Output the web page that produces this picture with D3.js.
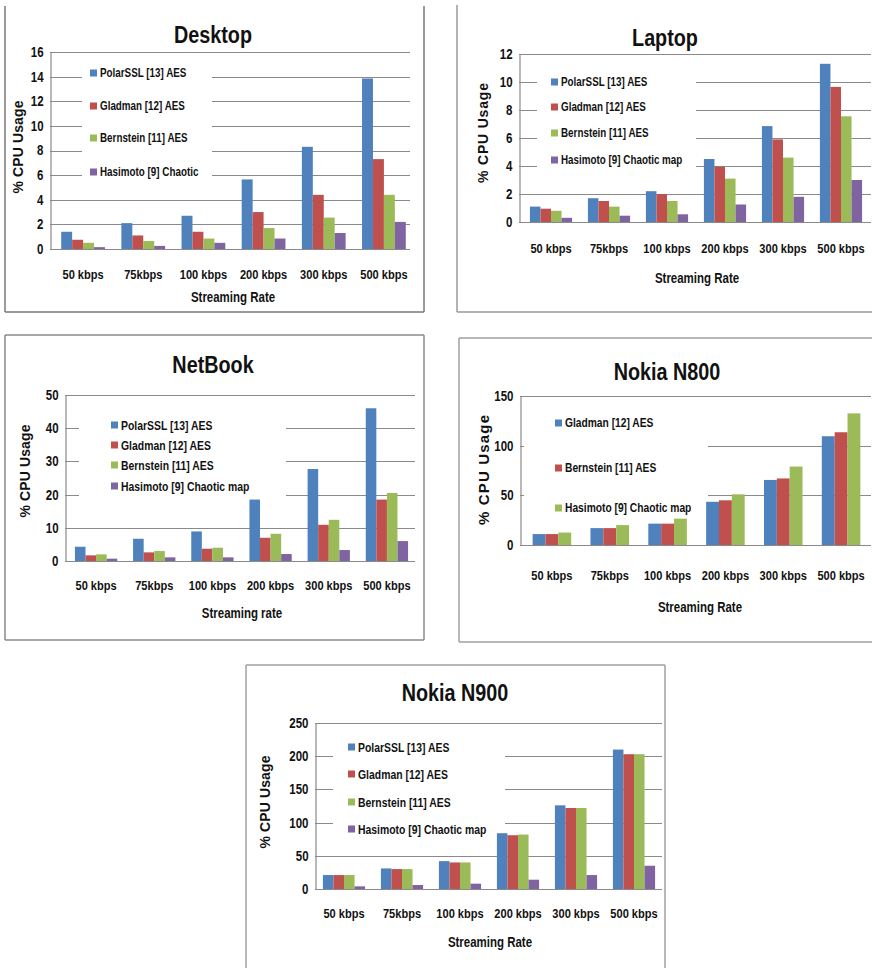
<!DOCTYPE html>
<html><head><meta charset="utf-8">
<script src="https://cdn.jsdelivr.net/npm/d3@7"></script>
<style>
body{margin:0;background:#fff}
svg{display:block}
text{font-family:"Liberation Sans Narrow","Arial Narrow","Liberation Sans",sans-serif;font-weight:bold;fill:#111}
</style>
</head><body>
<svg id="c" width="872" height="968"></svg>
<script>
// ---------- data ----------
const categories = ["50 kbps", "75kbps", "100 kbps", "200 kbps", "300 kbps", "500 kbps"];
const seriesColors = ["#4F81BD", "#C0504D", "#9BBB59", "#8064A2"];

const desktopSeries = ["PolarSSL [13] AES", "Gladman [12] AES", "Bernstein [11] AES", "Hasimoto [9] Chaotic"];
const desktopPolarSSL = [1.4, 2.1, 2.7, 5.65, 8.3, 13.85];
const desktopGladman = [0.75, 1.1, 1.4, 3.0, 4.4, 7.3];
const desktopBernstein = [0.5, 0.65, 0.85, 1.7, 2.55, 4.4];
const desktopHasimoto = [0.15, 0.25, 0.5, 0.85, 1.3, 2.2];
const desktopTicks = [0, 2, 4, 6, 8, 10, 12, 14, 16];

const laptopSeries = ["PolarSSL [13] AES", "Gladman [12] AES", "Bernstein [11] AES", "Hasimoto [9] Chaotic map"];
const laptopPolarSSL = [1.1, 1.7, 2.2, 4.5, 6.85, 11.3];
const laptopGladman = [0.95, 1.5, 2.0, 3.95, 5.9, 9.65];
const laptopBernstein = [0.8, 1.1, 1.5, 3.1, 4.6, 7.55];
const laptopHasimoto = [0.3, 0.45, 0.55, 1.25, 1.8, 3.0];
const laptopTicks = [0, 2, 4, 6, 8, 10, 12];

const netbookSeries = ["PolarSSL [13] AES", "Gladman [12] AES", "Bernstein [11] AES", "Hasimoto [9] Chaotic map"];
const netbookPolarSSL = [4.3, 6.7, 8.9, 18.5, 27.7, 46.0];
const netbookGladman = [1.7, 2.6, 3.7, 7.0, 10.9, 18.5];
const netbookBernstein = [2.0, 3.0, 4.0, 8.2, 12.4, 20.5];
const netbookHasimoto = [0.7, 1.1, 1.1, 2.1, 3.3, 6.0];
const netbookTicks = [0, 10, 20, 30, 40, 50];

const n800Series = ["Gladman [12] AES", "Bernstein [11] AES", "Hasimoto [9] Chaotic map"];
const n800Gladman = [11, 17, 21.5, 43.5, 65.5, 109.5];
const n800Bernstein = [11, 17, 21.5, 45, 67, 113.5];
const n800Hasimoto = [12.5, 20, 26.5, 51, 79, 132.5];
const n800Ticks = [0, 50, 100, 150];

const n900Series = ["PolarSSL [13] AES", "Gladman [12] AES", "Bernstein [11] AES", "Hasimoto [9] Chaotic map"];
const n900PolarSSL = [21, 31, 42, 84, 126, 210];
const n900Gladman = [21, 30, 40, 81, 122, 203];
const n900Bernstein = [21, 30, 40, 82, 122, 203];
const n900Hasimoto = [4, 6, 8, 14, 21, 35];
const n900Ticks = [0, 50, 100, 150, 200, 250];

// ---------- drawing ----------
const svg = d3.select("#c");

// compress text horizontally (around its anchor x) to mimic a narrow Calibri-like face
function narrow(sel, f) {
  sel.each(function () {
    const x = +(this.getAttribute("x") || 0);
    d3.select(this).attr("transform", `matrix(${f},0,0,1,${x * (1 - f)},0)`);
  });
}

function panel(o) {
  const g = svg.append("g");
  const [fx0, fy0, fx1, fy1] = o.frame;
  const sides = o.sides;
  let d = "";
  if (sides.includes("t")) d += `M${fx0},${fy0}H${fx1}`;
  if (sides.includes("l")) d += `M${fx0},${fy0}V${fy1}`;
  if (sides.includes("b")) d += `M${fx0},${fy1}H${fx1}`;
  if (sides.includes("r")) d += `M${fx1},${fy0}V${fy1}`;
  g.append("path").attr("d", d).attr("fill", "none").attr("stroke", o.frameColor).attr("stroke-width", 1.5);

  const y = d3.scaleLinear().domain([0, d3.max(o.ticks)]).range([o.yBottom, o.yTop]);
  const x = d3.scaleBand().domain(categories).range([o.bx0, o.bx1]).paddingInner(0).paddingOuter(0);
  const n = o.series.length;
  const bw = x.bandwidth() / (n + 1.5);
  const xs = d3.scaleBand().domain(o.series).range([0.75 * bw, 0.75 * bw + n * bw]);

  g.append("g").selectAll("line").data(o.ticks.filter(t => t > 0)).join("line")
    .attr("x1", o.axisX).attr("x2", o.gridX1)
    .attr("y1", d => Math.round(y(d)) + 0.5).attr("y2", d => Math.round(y(d)) + 0.5)
    .attr("stroke", "#8a8a8a").attr("stroke-width", 1);

  g.append("rect").attr("x", o.legendBox[0]).attr("y", o.legendBox[1])
    .attr("width", o.legendBox[2] - o.legendBox[0]).attr("height", o.legendBox[3] - o.legendBox[1])
    .attr("fill", "#fff");

  o.values.forEach((vals, si) => {
    g.append("g").selectAll("rect").data(vals).join("rect")
      .attr("x", (d, i) => x(categories[i]) + xs(o.series[si]))
      .attr("y", d => y(d))
      .attr("width", xs.bandwidth())
      .attr("height", d => y(0) - y(d))
      .attr("fill", seriesColors[si]);
  });

  const yAxis = d3.axisLeft(y).tickValues(o.ticks).tickSize(0).tickPadding(o.tickPad || 7);
  const ya = g.append("g").attr("transform", `translate(${o.axisX + 0.5},0)`).call(yAxis);
  ya.select(".domain").attr("stroke", "#8a8a8a").attr("stroke-width", 1.2);
  ya.selectAll("text").attr("font-size", o.tickFont).attr("font-family", null).attr("fill", "#111")
    .call(narrow, 0.82);

  const xAxis = d3.axisBottom(x).tickSize(0).tickPadding(0);
  const xa = g.append("g").attr("transform", `translate(0,${Math.round(o.yBottom) + 0.5})`).call(xAxis);
  xa.select(".domain").attr("d", `M${o.axisX},0H${o.gridX1}`).attr("stroke", "#8a8a8a").attr("stroke-width", 1.2);
  xa.selectAll("text").attr("font-size", o.catFont).attr("font-family", null).attr("fill", "#111")
    .attr("y", o.catY - o.yBottom).attr("dy", "0.35em").call(narrow, 0.82);

  g.append("text").attr("x", o.title[1]).attr("y", o.title[2]).attr("text-anchor", "middle")
    .attr("dominant-baseline", "central").attr("font-size", o.titleFont).text(o.title[0])
    .call(narrow, 0.86);

  g.append("text").attr("x", o.xTitle[1]).attr("y", o.xTitle[2]).attr("text-anchor", "middle")
    .attr("dominant-baseline", "central").attr("font-size", o.axisFont).text(o.xTitle[0])
    .call(narrow, 0.82);
  g.append("text").attr("transform", `translate(${o.yTitle[0]},${o.yTitle[1]}) rotate(-90)`)
    .attr("text-anchor", "middle").attr("dominant-baseline", "central")
    .attr("font-size", o.yTitleFont).attr("textLength", o.yTitle[2]).attr("lengthAdjust", "spacing")
    .text("% CPU Usage");

  const lg = g.append("g");
  o.series.forEach((s, i) => {
    lg.append("rect").attr("x", o.legendX).attr("y", o.legendYs[i] - 3.5).attr("width", 7).attr("height", 7)
      .attr("fill", seriesColors[i]);
    lg.append("text").attr("x", o.legendX + 10).attr("y", o.legendYs[i]).attr("dominant-baseline", "central")
      .attr("font-size", o.legendFont).text(s).call(narrow, 0.82);
  });
}

panel({
  frame: [5, 6, 424, 312], sides: "lbr", frameColor: "#7a7a7a",
  ticks: desktopTicks, series: desktopSeries,
  values: [desktopPolarSSL, desktopGladman, desktopBernstein, desktopHasimoto],
  axisX: 50, gridX1: 410, bx0: 53, bx1: 414, yTop: 52, yBottom: 249,
  title: ["Desktop", 213, 35], titleFont: 23,
  xTitle: ["Streaming Rate", 233, 297], yTitle: [18, 147, 93],
  catY: 274, tickFont: 14, catFont: 13.5, axisFont: 14, yTitleFont: 14, legendFont: 12,
  legendBox: [82, 60, 212, 188], legendX: 90, legendYs: [73, 106, 138, 172]
});

panel({
  frame: [457, 5, 872, 312], sides: "lb", frameColor: "#9a9a9a",
  ticks: laptopTicks, series: laptopSeries,
  values: [laptopPolarSSL, laptopGladman, laptopBernstein, laptopHasimoto],
  axisX: 519, gridX1: 871, bx0: 522, bx1: 870, yTop: 54, yBottom: 222,
  title: ["Laptop", 665, 38], titleFont: 23,
  xTitle: ["Streaming Rate", 697, 278], yTitle: [483, 133, 100],
  catY: 248, tickFont: 14, catFont: 13.5, axisFont: 14, yTitleFont: 14, legendFont: 12,
  legendBox: [537, 66, 696, 178], legendX: 551, legendYs: [82, 107, 133, 160]
});

panel({
  frame: [5, 335, 424, 640], sides: "tlbr", frameColor: "#8a8a8a",
  ticks: netbookTicks, series: netbookSeries,
  values: [netbookPolarSSL, netbookGladman, netbookBernstein, netbookHasimoto],
  axisX: 65, gridX1: 415, bx0: 67, bx1: 416, yTop: 395, yBottom: 561,
  title: ["NetBook", 213, 365], titleFont: 23,
  xTitle: ["Streaming rate", 242, 613], yTitle: [25, 471, 93],
  catY: 585, tickFont: 14, catFont: 13.5, axisFont: 14, yTitleFont: 14, legendFont: 12.7,
  legendBox: [79, 412, 286, 500], legendX: 111, legendYs: [425, 445, 465, 486]
});

panel({
  frame: [459, 338, 872, 642], sides: "tlb", frameColor: "#a0a0a0",
  ticks: n800Ticks, series: n800Series,
  values: [n800Gladman, n800Bernstein, n800Hasimoto],
  axisX: 520, gridX1: 871, bx0: 523, bx1: 870, yTop: 396, yBottom: 545,
  title: ["Nokia N800", 667, 372], titleFont: 23,
  xTitle: ["Streaming Rate", 700, 607], yTitle: [483, 470, 110],
  catY: 575, tickFont: 14, catFont: 13.5, axisFont: 14, yTitleFont: 15, legendFont: 12.5,
  legendBox: [524, 405, 708, 525], legendX: 555, legendYs: [423, 468, 508]
});

panel({
  frame: [246, 665, 665, 968], sides: "tlr", frameColor: "#a0a0a0",
  ticks: n900Ticks, series: n900Series,
  values: [n900PolarSSL, n900Gladman, n900Bernstein, n900Hasimoto],
  axisX: 315, gridX1: 662, bx0: 315, bx1: 663, yTop: 723, yBottom: 889,
  title: ["Nokia N900", 455, 693], titleFont: 23,
  xTitle: ["Streaming Rate", 490, 942], yTitle: [265, 802, 93],
  catY: 913, tickFont: 14, catFont: 13.5, axisFont: 14, yTitleFont: 14, legendFont: 12.7,
  legendBox: [333, 736, 505, 842], legendX: 348, legendYs: [747, 774, 802, 829]
});
</script>
</body></html>
